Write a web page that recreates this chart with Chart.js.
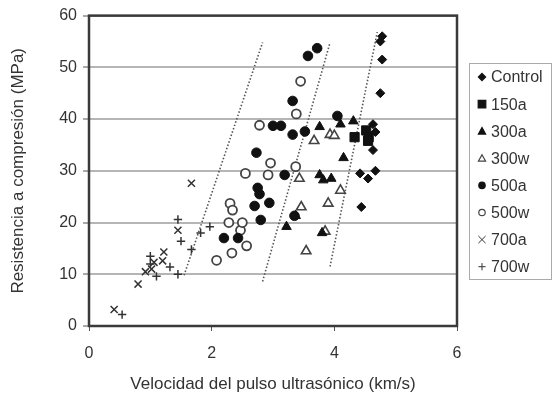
<!DOCTYPE html>
<html>
<head>
<meta charset="utf-8">
<script src="https://cdn.jsdelivr.net/npm/chart.js@4/dist/chart.umd.min.js"></script>
<style>
  html, body { margin: 0; padding: 0; background: #fff; }
  canvas { display: block; }
</style>
</head>
<body>
<canvas id="chart" width="554" height="406"></canvas>
<script>
// [velocidad km/s, resistencia MPa]
const control = [[4.78,56],[4.75,55],[4.78,51.5],[4.75,45],[4.63,39],[4.67,37.5],[4.63,34],[4.67,30],[4.55,28.5],[4.42,29.5],[4.44,23]];
const s150a = [[4.33,36.5],[4.52,37.8],[4.56,36.5],[4.55,35.8]];
const s300a = [[3.22,19.2],[3.37,21.3],[3.76,38.5],[3.76,29.2],[3.82,28.2],[3.95,28.5],[4.1,39],[4.15,32.5],[4.31,39.6],[3.8,18]];
const s300w = [[3.43,28.5],[3.46,23],[3.54,14.5],[3.67,35.8],[3.85,18.3],[3.9,23.7],[3.93,37],[4.0,36.8],[4.1,26.2]];
const s500a = [[2.2,17],[2.43,17],[2.7,23.2],[2.73,33.5],[2.75,26.7],[2.78,25.5],[2.8,20.5],[2.94,23.8],[3.0,38.7],[3.13,38.7],[3.19,29.2],[3.32,43.5],[3.32,37],[3.35,21.3],[3.52,37.6],[3.57,52.2],[3.72,53.7],[4.05,40.6]];
const s500w = [[2.08,12.7],[2.28,20],[2.3,23.7],[2.34,22.4],[2.33,14.1],[2.47,18.5],[2.5,20],[2.55,29.5],[2.57,15.5],[2.78,38.8],[2.92,29.2],[2.96,31.5],[3.37,30.8],[3.38,41],[3.45,47.3]];
const s700a = [[0.41,3.2],[0.8,8.1],[0.92,10.5],[1.02,11],[1.06,12.3],[1.22,14.3],[1.2,12.6],[1.45,18.5],[1.67,27.6]];
const s700w = [[0.54,2.2],[1.0,13.5],[1.0,12],[1.1,9.6],[1.32,11.4],[1.45,10],[1.45,20.6],[1.5,16.4],[1.67,14.8],[1.82,18],[1.97,19.2]];

// dotted divider lines
const line1 = [[1.55,9.8],[2.83,54.8]];
const line2 = [[2.83,8.6],[3.93,54.8]];
const line3 = [[3.93,11.5],[4.7,56.8]];

const xTicks = [0, 2, 4, 6];
const yTicks = [0, 10, 20, 30, 40, 50, 60];

const FONT = "'Liberation Sans', Arial, sans-serif";
const TEXT = '#333';
const INK = '#111';

function pts(arr) {
  return arr.map(function(p) { return { x: p[0], y: p[1] }; });
}

function series(label, data, style, radius, fill, border, bw) {
  return {
    label: label,
    type: 'scatter',
    data: pts(data),
    pointStyle: style,
    pointRadius: radius,
    pointHoverRadius: radius,
    backgroundColor: fill,
    borderColor: border,
    borderWidth: bw,
    order: 1
  };
}

function divider(data) {
  return {
    type: 'line',
    data: pts(data),
    showLine: true,
    borderColor: '#555',
    borderWidth: 1.6,
    borderDash: [1.5, 2],
    pointRadius: 0,
    fill: false,
    order: 10,
    inLegend: false
  };
}

const datasets = [
  series('Control', control, 'rectRot', 4.5, INK, INK, 1),
  series('150a', s150a, 'rect', 6.5, INK, INK, 1),
  series('300a', s300a, 'triangle', 5.5, INK, INK, 1),
  series('300w', s300w, 'triangle', 5.5, '#fff', '#444', 1.6),
  series('500a', s500a, 'circle', 4.8, INK, INK, 1),
  series('500w', s500w, 'circle', 4.5, '#fff', '#444', 1.8),
  series('700a', s700a, 'crossRot', 5, INK, '#333', 1.5),
  series('700w', s700w, 'cross', 4.2, INK, '#333', 1.5),
  divider(line1),
  divider(line2),
  divider(line3)
];

// small marker painter for the legend box
function marker(ctx, style, x, y, r, fill, stroke, bw) {
  ctx.save();
  ctx.beginPath();
  if (style === 'circle') {
    ctx.arc(x, y, r, 0, Math.PI * 2);
  } else if (style === 'rect') {
    ctx.rect(x - r, y - r, 2 * r, 2 * r);
  } else if (style === 'rectRot') {
    ctx.moveTo(x, y - r); ctx.lineTo(x + r, y); ctx.lineTo(x, y + r); ctx.lineTo(x - r, y); ctx.closePath();
  } else if (style === 'triangle') {
    ctx.moveTo(x, y - r); ctx.lineTo(x + r, y + r * 0.8); ctx.lineTo(x - r, y + r * 0.8); ctx.closePath();
  } else if (style === 'crossRot') {
    ctx.moveTo(x - r, y - r); ctx.lineTo(x + r, y + r); ctx.moveTo(x + r, y - r); ctx.lineTo(x - r, y + r);
  } else if (style === 'cross') {
    ctx.moveTo(x - r, y); ctx.lineTo(x + r, y); ctx.moveTo(x, y - r); ctx.lineTo(x, y + r);
  }
  ctx.lineWidth = bw;
  ctx.strokeStyle = stroke;
  if (style !== 'crossRot' && style !== 'cross') {
    ctx.fillStyle = fill;
    ctx.fill();
  }
  ctx.stroke();
  ctx.restore();
}

const frameAndLegend = {
  id: 'frameAndLegend',
  afterDatasetsDraw(chart) {
    const ctx = chart.ctx;
    const a = chart.chartArea;
    ctx.save();
    // plot frame
    ctx.strokeStyle = '#3a3a3a';
    ctx.lineWidth = 2.5;
    ctx.strokeRect(a.left, a.top, a.right - a.left, a.bottom - a.top);

    // legend box
    ctx.strokeStyle = '#aaa';
    ctx.lineWidth = 1;
    ctx.strokeRect(469.5, 63.5, 82, 216);
    ctx.font = '16px ' + FONT;
    ctx.fillStyle = TEXT;
    ctx.textBaseline = 'middle';
    let y = 77;
    chart.data.datasets.forEach(function(ds) {
      if (ds.inLegend === false) return;
      const s = ds.pointStyle;
      const r = s === 'rect' ? 3.8 : (s === 'circle' ? 3.2 : 3.6);
      marker(ctx, s, 482, y, r, ds.backgroundColor, ds.borderColor, s === 'cross' || s === 'crossRot' ? 1 : 1.2);
      ctx.fillStyle = TEXT;
      ctx.fillText(ds.label, 491, y + 1);
      y += 27.1;
    });
    ctx.restore();
  }
};

new Chart(document.getElementById('chart'), {
  type: 'scatter',
  data: { datasets: datasets },
  plugins: [frameAndLegend],
  options: {
    responsive: false,
    animation: false,
    devicePixelRatio: 1,
    layout: { padding: { top: 15, right: 97, bottom: 0, left: 0 } },
    plugins: {
      legend: { display: false },
      tooltip: { enabled: false }
    },
    scales: {
      x: {
        type: 'linear',
        min: 0,
        max: 6,
        afterFit: function(scale) { scale.height = 80; },
        afterBuildTicks: function(scale) { scale.ticks = xTicks.map(function(v) { return { value: v }; }); },
        grid: { drawOnChartArea: false, drawTicks: true, tickLength: 5, tickColor: '#555', tickWidth: 1 },
        border: { display: false },
        ticks: { color: TEXT, font: { family: FONT, size: 16 }, padding: 13 },
        title: {
          display: true,
          text: 'Velocidad del pulso ultrasónico (km/s)',
          color: TEXT,
          font: { family: FONT, size: 17 },
          padding: { top: 0, bottom: 11 }
        }
      },
      y: {
        type: 'linear',
        min: 0,
        max: 60,
        afterFit: function(scale) { scale.width = 89; },
        afterBuildTicks: function(scale) { scale.ticks = yTicks.map(function(v) { return { value: v }; }); },
        grid: { color: '#b5b5b5', lineWidth: 2, drawTicks: true, tickLength: 6, tickColor: '#555', tickWidth: 1 },
        border: { display: false },
        ticks: { color: TEXT, font: { family: FONT, size: 16 }, padding: 6 },
        title: {
          display: true,
          text: 'Resistencia a compresión (MPa)',
          color: TEXT,
          font: { family: FONT, size: 17 },
          padding: { top: 8, bottom: 0 }
        }
      }
    }
  }
});
</script>
</body>
</html>
